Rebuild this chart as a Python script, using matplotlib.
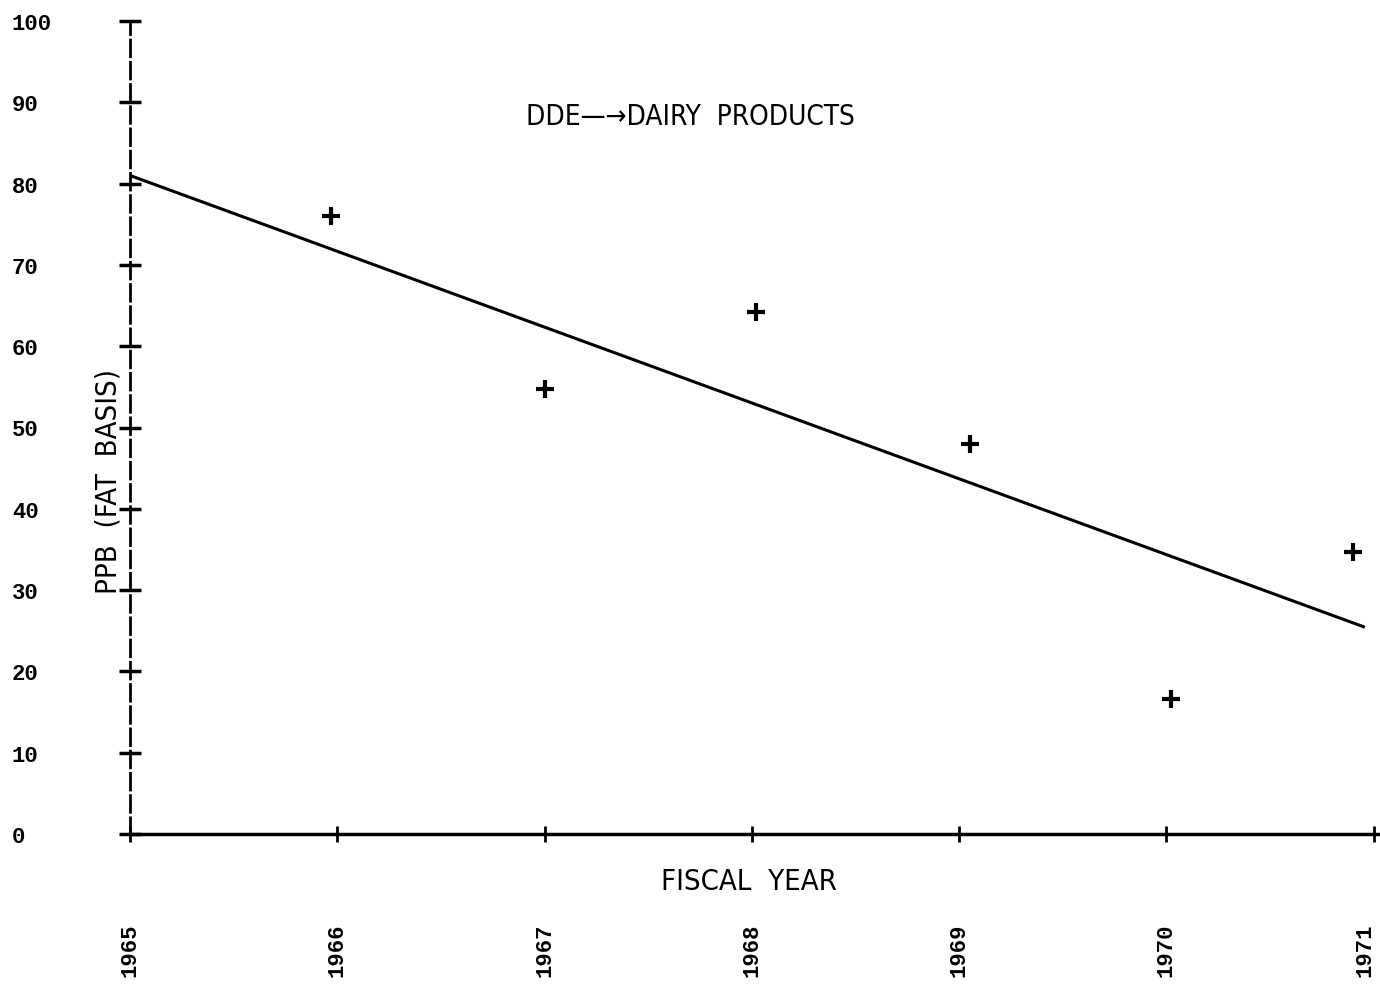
import matplotlib
matplotlib.use("Agg")
import matplotlib.pyplot as plt
import matplotlib.transforms as mtransforms

# DDE residues in dairy products, ppb (fat basis), by fiscal year
years = [1965.97, 1967.0, 1968.02, 1969.05, 1970.02, 1970.9]
ppb = [76.0, 54.7, 64.2, 48.0, 16.6, 34.7]

# fitted trend line (end points)
trend_years = [1965.0, 1970.95]
trend_ppb = [81.0, 25.5]

year_ticks = [1965, 1966, 1967, 1968, 1969, 1970, 1971]
ppb_ticks = [0, 10, 20, 30, 40, 50, 60, 70, 80, 90, 100]

narrow = dict(family='DejaVu Sans', stretch='condensed')
tickfont = ['Liberation Mono', 'DejaVu Sans Mono']

fig = plt.figure(figsize=(13.8, 9.87), dpi=100)
ax = fig.add_axes([130 / 1380, 1 - 835 / 987, 1250 / 1380, 813 / 987])

ax.plot(trend_years, trend_ppb, color='black', lw=2.2)
ax.plot(years, ppb, linestyle='none', marker='+', color='black',
        markersize=13, markeredgewidth=3)

ax.set_xlim(1965, 1971.03)
ax.set_ylim(0, 100)

for side in ['top', 'right']:
    ax.spines[side].set_visible(False)
ax.spines['left'].set_linewidth(2)
ax.spines['left'].set_linestyle((0, (6, 2)))
ax.spines['bottom'].set_linewidth(2.5)

ax.set_yticks(ppb_ticks)
ax.set_yticklabels([str(v) for v in ppb_ticks], family=tickfont,
                   fontweight='bold', fontsize=16, ha='left')
ax.set_xticks(year_ticks)
ax.set_xticklabels([str(v) for v in year_ticks], family=tickfont,
                   fontweight='bold', fontsize=16, rotation=90)

ax.tick_params(axis='y', direction='inout', length=16, width=2.5, pad=77)
ax.tick_params(axis='x', direction='inout', length=12, width=2, pad=58)

# keep the last year label inside the page
last = ax.get_xticklabels()[-1]
last.set_transform(last.get_transform() +
                   mtransforms.ScaledTranslation(-6 / 72, 0, fig.dpi_scale_trans))

ax.text(0.448, 0.883, 'DDE\u2014\u2192DAIRY  PRODUCTS', transform=ax.transAxes,
        ha='center', va='center', fontsize=20, **narrow)
ax.set_xlabel('FISCAL  YEAR', fontsize=21, **narrow)
ax.xaxis.set_label_coords(0.495, -0.041)
ax.set_ylabel('PPB  (FAT  BASIS)', fontsize=21, **narrow)
ax.yaxis.set_label_coords(-0.006, 0.435)

fig.savefig('out.png', dpi=100)
